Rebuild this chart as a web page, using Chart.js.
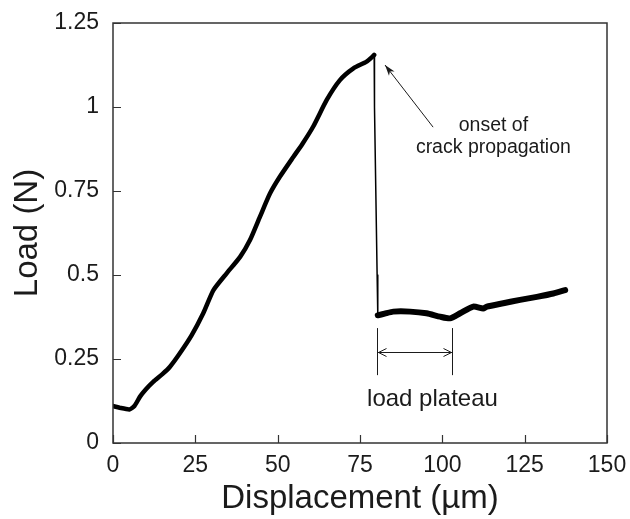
<!DOCTYPE html>
<html>
<head>
<meta charset="utf-8">
<script src="https://cdn.jsdelivr.net/npm/chart.js@4/dist/chart.umd.min.js"></script>
<style>
  html, body { margin: 0; padding: 0; background: #fff; }
  #wrap { width: 630px; height: 519px; }
</style>
</head>
<body>
<div id="wrap"><canvas id="chart" width="630" height="519"></canvas></div>
<script>
// Loading curve before crack onset (displacement in um, load in N)
const riseX = [0, 2, 5, 6.5, 8.2, 10, 12.2, 15, 17.3, 20.3, 23.9, 27.4, 30.5, 34.5, 38.6, 41.6, 44.6, 47.7, 50.7, 54.8, 57.5, 60.8, 64.9, 68.9, 73, 77, 78.8, 79.3];
const riseY = [0.11, 0.105, 0.1, 0.11, 0.138, 0.16, 0.182, 0.205, 0.227, 0.267, 0.321, 0.386, 0.455, 0.505, 0.554, 0.604, 0.673, 0.743, 0.793, 0.852, 0.89, 0.942, 1.021, 1.08, 1.115, 1.135, 1.15, 1.155];

// Sudden load drop
const dropX = [79.3, 79.4, 79.8, 80.2, 80.4];
const dropY = [1.155, 1.0, 0.75, 0.5, 0.38];

// Plateau and slow rise afterwards
const plateauX = [80.4, 82.5, 85.1, 90.2, 95.2, 99.3, 102.3, 105.4, 109.4, 112.4, 113.5, 118.5, 123.6, 128.7, 133.7, 137.3];
const plateauY = [0.38, 0.385, 0.391, 0.391, 0.386, 0.376, 0.371, 0.386, 0.406, 0.4, 0.406, 0.416, 0.426, 0.435, 0.445, 0.455];

// Axis ticks
const xTicks = [0, 25, 50, 75, 100, 125, 150];
const yTicks = [0, 0.25, 0.5, 0.75, 1, 1.25];

// Annotation anchors (data units)
const onsetArrow = { from: [97.2, 0.94], to: [82.6, 1.125] };
const onsetLabel = { x: 115.5, lines: ['onset of', 'crack propagation'], y: [0.946, 0.88] };
const plateauRange = [80.2, 103];
const plateauBracket = { top: 0.342, bottom: 0.202, arrowY: 0.271 };
const plateauLabel = { x: 97, y: 0.13, text: 'load plateau' };

const FONT = "'Liberation Sans', Arial, sans-serif";
const INK = '#1b1b1b';

const toPts = (xs, ys) => xs.map((x, i) => ({ x: x, y: ys[i] }));

// Box, inward ticks and annotations
const decorPlugin = {
  id: 'decor',
  afterDatasetsDraw(chart) {
    const { ctx, chartArea: a, scales: { x, y } } = chart;
    ctx.save();
    ctx.strokeStyle = '#333';
    ctx.lineWidth = 1.5;
    ctx.strokeRect(a.left, a.top, a.right - a.left, a.bottom - a.top);

    // inward ticks
    ctx.lineWidth = 1.2;
    ctx.beginPath();
    yTicks.forEach(v => {
      const py = Math.round(y.getPixelForValue(v)) + 0.5;
      ctx.moveTo(a.left, py);
      ctx.lineTo(a.left + 8, py);
    });
    xTicks.forEach(v => {
      const px = Math.round(x.getPixelForValue(v)) + 0.5;
      ctx.moveTo(px, a.bottom);
      ctx.lineTo(px, a.bottom - 8);
    });
    ctx.stroke();

    // onset arrow
    const fx = x.getPixelForValue(onsetArrow.from[0]), fy = y.getPixelForValue(onsetArrow.from[1]);
    const tx = x.getPixelForValue(onsetArrow.to[0]), ty = y.getPixelForValue(onsetArrow.to[1]);
    ctx.strokeStyle = INK;
    ctx.fillStyle = INK;
    ctx.lineWidth = 1;
    ctx.beginPath();
    ctx.moveTo(fx, fy);
    ctx.lineTo(tx, ty);
    ctx.stroke();
    const ang = Math.atan2(ty - fy, tx - fx);
    ctx.beginPath();
    ctx.moveTo(tx, ty);
    ctx.lineTo(tx - 11 * Math.cos(ang) + 3.5 * Math.sin(ang), ty - 11 * Math.sin(ang) - 3.5 * Math.cos(ang));
    ctx.lineTo(tx - 8 * Math.cos(ang), ty - 8 * Math.sin(ang));
    ctx.lineTo(tx - 11 * Math.cos(ang) - 3.5 * Math.sin(ang), ty - 11 * Math.sin(ang) + 3.5 * Math.cos(ang));
    ctx.closePath();
    ctx.fill();

    ctx.font = '19.5px ' + FONT;
    ctx.textAlign = 'center';
    ctx.textBaseline = 'middle';
    onsetLabel.lines.forEach((t, i) => {
      ctx.fillText(t, x.getPixelForValue(onsetLabel.x), y.getPixelForValue(onsetLabel.y[i]));
    });

    // plateau bracket
    const x0 = Math.round(x.getPixelForValue(plateauRange[0])) + 0.5;
    const x1 = Math.round(x.getPixelForValue(plateauRange[1])) + 0.5;
    const bt = y.getPixelForValue(plateauBracket.top);
    const bb = y.getPixelForValue(plateauBracket.bottom);
    const ay = Math.round(y.getPixelForValue(plateauBracket.arrowY)) + 0.5;
    ctx.beginPath();
    ctx.moveTo(x0, bt); ctx.lineTo(x0, bb);
    ctx.moveTo(x1, bt); ctx.lineTo(x1, bb);
    ctx.moveTo(x0, ay); ctx.lineTo(x1, ay);
    // arrowheads pointing outwards
    ctx.moveTo(x0 + 9, ay - 4); ctx.lineTo(x0 + 1, ay); ctx.lineTo(x0 + 9, ay + 4);
    ctx.moveTo(x1 - 9, ay - 4); ctx.lineTo(x1 - 1, ay); ctx.lineTo(x1 - 9, ay + 4);
    ctx.stroke();

    ctx.font = '24px ' + FONT;
    ctx.fillText(plateauLabel.text, x.getPixelForValue(plateauLabel.x), y.getPixelForValue(plateauLabel.y));
    ctx.restore();
  }
};

const lineStyle = (w) => ({
  borderColor: '#000',
  borderWidth: w,
  pointRadius: 0,
  tension: 0.2,
  fill: false,
  borderJoinStyle: 'round',
  borderCapStyle: 'round'
});

new Chart(document.getElementById('chart'), {
  type: 'line',
  data: {
    datasets: [
      { label: 'rise', data: toPts(riseX, riseY), ...lineStyle(4.5) },
      { label: 'drop', data: toPts(dropX, dropY), ...lineStyle(1.5), tension: 0 },
      { label: 'plateau', data: toPts(plateauX, plateauY), ...lineStyle(6) }
    ]
  },
  options: {
    responsive: false,
    animation: false,
    devicePixelRatio: 1,
    layout: { padding: { top: 23, right: 23, left: 0, bottom: 0 } },
    plugins: {
      legend: { display: false },
      tooltip: { enabled: false }
    },
    scales: {
      x: {
        type: 'linear',
        min: 0,
        max: 150,
        afterBuildTicks: s => { s.ticks = xTicks.map(v => ({ value: v })); },
        afterFit: s => { s.height = 76; s.paddingLeft = 0; s.paddingRight = 0; },
        grid: { display: false, drawTicks: false },
        border: { display: false },
        ticks: {
          padding: 9,
          color: INK,
          font: { family: FONT, size: 23 },
          callback: v => String(v)
        },
        title: {
          display: true,
          text: 'Displacement (µm)',
          color: INK,
          font: { family: FONT, size: 33 },
          padding: { top: 0, bottom: 0 }
        }
      },
      y: {
        type: 'linear',
        min: 0,
        max: 1.25,
        afterBuildTicks: s => { s.ticks = yTicks.map(v => ({ value: v })); },
        afterFit: s => { s.width = 113; s.paddingTop = 0; s.paddingBottom = 0; },
        grid: { display: false, drawTicks: false },
        border: { display: false },
        ticks: {
          padding: 14,
          color: INK,
          font: { family: FONT, size: 23 },
          callback: v => String(+v.toFixed(2))
        },
        title: {
          display: true,
          text: 'Load (N)',
          color: INK,
          font: { family: FONT, size: 33 },
          padding: { top: 8, bottom: 0 }
        }
      }
    }
  },
  plugins: [decorPlugin]
});
</script>
</body>
</html>
